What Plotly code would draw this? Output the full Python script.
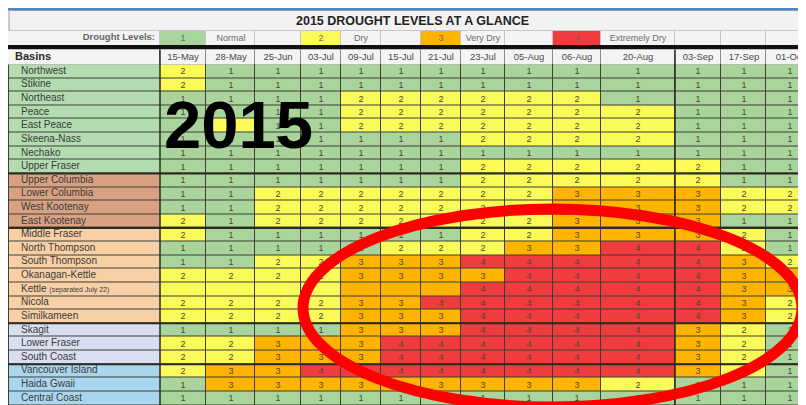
import plotly.graph_objects as go

# ---------------- data ----------------
title_text = "2015 DROUGHT LEVELS AT A GLANCE"
year_label = "2015"
legend_title = "Drought Levels:"
legend_levels = [1, 2, 3, 4]
legend_names = ["Normal", "Dry", "Very Dry", "Extremely Dry"]
header_label = "Basins"

dates = ["15-May", "28-May", "25-Jun", "03-Jul", "09-Jul", "15-Jul", "21-Jul",
         "23-Jul", "05-Aug", "06-Aug", "20-Aug", "03-Sep", "17-Sep", "01-Oct"]

basins = ["Northwest", "Stikine", "Northeast", "Peace", "East Peace", "Skeena-Nass",
          "Nechako", "Upper Fraser", "Upper Columbia", "Lower Columbia", "West Kootenay",
          "East Kootenay", "Middle Fraser", "North Thompson", "South Thompson",
          "Okanagan-Kettle", "Kettle", "Nicola", "Similkameen", "Skagit", "Lower Fraser",
          "South Coast", "Vancouver Island", "Haida Gwaii", "Central Coast"]
kettle_note = "(separated July 22)"
kettle_split_index = 7  # Kettle reported separately from 23-Jul

northwest       = [2, 1, 1, 1, 1, 1, 1, 1, 1, 1, 1, 1, 1, 1]
stikine         = [2, 1, 1, 1, 1, 1, 1, 1, 1, 1, 1, 1, 1, 1]
northeast       = [1, 1, 1, 1, 2, 2, 2, 2, 2, 2, 1, 1, 1, 1]
peace           = [1, 1, 1, 1, 2, 2, 2, 2, 2, 2, 2, 1, 1, 1]
east_peace      = [1, 2, 1, 1, 2, 2, 2, 2, 2, 2, 2, 1, 1, 1]
skeena_nass     = [1, 1, 1, 1, 1, 1, 1, 2, 2, 2, 2, 1, 1, 1]
nechako         = [1, 1, 1, 1, 1, 1, 1, 1, 1, 1, 1, 1, 1, 1]
upper_fraser    = [1, 1, 1, 1, 1, 1, 1, 2, 2, 2, 2, 2, 1, 1]
upper_columbia  = [1, 1, 1, 1, 1, 1, 1, 2, 2, 2, 2, 2, 1, 1]
lower_columbia  = [1, 1, 2, 2, 2, 2, 2, 2, 2, 3, 3, 3, 2, 2]
west_kootenay   = [1, 1, 2, 2, 2, 2, 2, 2, 2, 3, 3, 3, 2, 2]
east_kootenay   = [2, 1, 2, 2, 2, 2, 2, 2, 2, 3, 3, 3, 1, 1]
middle_fraser   = [2, 1, 1, 1, 1, 1, 1, 2, 2, 3, 3, 3, 2, 1]
north_thompson  = [1, 1, 1, 1, 1, 2, 2, 2, 3, 3, 4, 4, 2, 1]
south_thompson  = [1, 1, 2, 2, 3, 3, 3, 4, 4, 4, 4, 4, 3, 2]
okanagan_kettle = [2, 2, 2, 2, 3, 3, 3, 3, 4, 4, 4, 4, 3, 3]
kettle          = [2, 2, 2, 2, 3, 3, 3, 4, 4, 4, 4, 4, 3, 3]
nicola          = [2, 2, 2, 2, 3, 3, 4, 4, 4, 4, 4, 4, 3, 2]
similkameen     = [2, 2, 2, 2, 3, 3, 3, 4, 4, 4, 4, 4, 3, 2]
skagit          = [1, 1, 1, 1, 3, 3, 3, 4, 4, 4, 4, 3, 2, 1]
lower_fraser    = [2, 2, 3, 3, 3, 4, 4, 4, 4, 4, 4, 3, 2, 1]
south_coast     = [2, 2, 3, 3, 3, 4, 4, 4, 4, 4, 4, 3, 2, 1]
vancouver_island = [2, 3, 3, 4, 4, 4, 4, 4, 4, 4, 4, 3, 2, 1]
haida_gwaii     = [1, 3, 3, 3, 3, 3, 3, 3, 3, 3, 2, 1, 1, 1]
central_coast   = [1, 1, 1, 1, 1, 1, 1, 1, 1, 1, 1, 1, 1, 1]

levels = [northwest, stikine, northeast, peace, east_peace, skeena_nass, nechako,
          upper_fraser, upper_columbia, lower_columbia, west_kootenay, east_kootenay,
          middle_fraser, north_thompson, south_thompson, okanagan_kettle, kettle,
          nicola, similkameen, skagit, lower_fraser, south_coast, vancouver_island,
          haida_gwaii, central_coast]

# region group of each basin (0 north, 1 kootenay/columbia, 2 interior, 3 lower mainland, 4 coast)
groups = [0] * 8 + [1] * 4 + [2] * 7 + [3] * 3 + [4] * 3

# ---------------- styling / layout ----------------
W, H = 806, 405
level_colors = ["#f4f4f4", "#a9d49b", "#fafa58", "#ffb400", "#f03c3e"]
group_colors = ["#b3dcb0", "#d8a282", "#f9d0a6", "#d9dff0", "#aad7f0"]


def discrete_scale(cols):
    n = len(cols)
    sc = []
    for i, c in enumerate(cols):
        sc.append([i / n, c])
        sc.append([(i + 1) / n, c])
    return sc


col_edges = [152, 198, 247, 293, 333, 373, 413, 453, 497, 545, 593, 667, 713, 758, 806]
row_top, row_h = 56.5, 13.62
row_edges = [row_top + row_h * i for i in range(len(basins) + 1)]
row_centers = [(row_edges[i] + row_edges[i + 1]) / 2 for i in range(len(basins))]

cell_text = []
for name, vals in zip(basins, levels):
    if name == "Kettle":
        cell_text.append(["" if j < kettle_split_index else str(v) for j, v in enumerate(vals)])
    else:
        cell_text.append([str(v) for v in vals])

fig = go.Figure()

# main grid
fig.add_trace(go.Heatmap(
    z=levels, x=col_edges, y=row_edges, text=cell_text, texttemplate="%{text}",
    textfont=dict(size=9, color="#4d4633", family="Liberation Sans"),
    colorscale=discrete_scale(level_colors), zmin=-0.5, zmax=4.5,
    xgap=1, ygap=1, showscale=False, hoverinfo="skip"))

# label column background
fig.add_trace(go.Heatmap(
    z=[[g] for g in groups], x=[1, 152], y=row_edges,
    colorscale=discrete_scale(group_colors), zmin=-0.5, zmax=4.5,
    ygap=1, showscale=False, hoverinfo="skip"))

# header row with dates
hdr_edges = [0] + col_edges
fig.add_trace(go.Heatmap(
    z=[[0] * (len(dates) + 1)], x=hdr_edges, y=[41.5, 56],
    text=[[""] + dates], texttemplate="%{text}",
    textfont=dict(size=9.5, color="#4a4a4a", family="Liberation Sans"),
    colorscale=discrete_scale(level_colors), zmin=-0.5, zmax=4.5,
    xgap=1, showscale=False, hoverinfo="skip"))

# legend row
leg_z, leg_t = [0], [""]
for lv, nm in zip(legend_levels, legend_names):
    leg_z += [lv, 0, 0]
    leg_t += [str(lv), nm, ""]
while len(leg_z) < len(hdr_edges) - 1:
    leg_z.append(0)
    leg_t.append("")
fig.add_trace(go.Heatmap(
    z=[leg_z], x=hdr_edges, y=[23, 37], text=[leg_t], texttemplate="%{text}",
    textfont=dict(size=9, color="#6a6a6a", family="Liberation Sans"),
    colorscale=discrete_scale(level_colors), zmin=-0.5, zmax=4.5,
    xgap=1, showscale=False, hoverinfo="skip"))

# basin labels
label_text = [f"{b} <span style='font-size:7px'>{kettle_note}</span>" if b == "Kettle" else b
              for b in basins]
fig.add_trace(go.Scatter(
    x=[13] * len(basins), y=row_centers, mode="text", text=label_text,
    textposition="middle right",
    textfont=dict(size=10, color="#3a3a3a", family="Liberation Sans"),
    hoverinfo="skip", showlegend=False))

fig.add_trace(go.Scatter(
    x=[7, 147], y=[49, 30], mode="text",
    text=[f"<b>{header_label}</b>", f"<b>{legend_title}</b>"],
    textposition=["middle right", "middle left"],
    textfont=dict(size=[11, 9.5], color=["#2a2a2a", "#666666"], family="Liberation Sans"),
    hoverinfo="skip", showlegend=False))

shapes = [
    # top blue strip and title band
    dict(type="rect", x0=0, x1=W, y0=0, y1=2.5, fillcolor="#4b86c6", line_width=0, layer="below"),
    dict(type="rect", x0=1, x1=W, y0=2.5, y1=23, fillcolor="#f2f2f2",
         line=dict(color="#9a9a9a", width=1), layer="below"),
    # legend row background (line colour)
    dict(type="rect", x0=0, x1=W, y0=23, y1=37, fillcolor="#c4c4c4", line_width=0, layer="below"),
    # thick black rule
    dict(type="rect", x0=0, x1=W, y0=37, y1=41.5, fillcolor="#111111", line_width=0, layer="below"),
    # header line colour
    dict(type="rect", x0=0, x1=W, y0=41.5, y1=56.5, fillcolor="#8a8a8a", line_width=0, layer="below"),
    # grid line colour for table
    dict(type="rect", x0=0, x1=W, y0=56, y1=row_edges[-1] + 0.5, fillcolor="#3f3f35",
         line_width=0, layer="below"),
    # bottom box
    dict(type="rect", x0=68, x1=735, y0=row_edges[-1] + 1.5, y1=H + 5, fillcolor="#ffffff",
         line=dict(color="#555555", width=1), layer="below"),
]
for gi in (8, 12, 19, 22):
    shapes.append(dict(type="line", x0=0, x1=W, y0=row_edges[gi], y1=row_edges[gi],
                       line=dict(color="#2b2b22", width=2)))
for xv in (152, 667):
    shapes.append(dict(type="line", x0=xv, x1=xv, y0=41.5, y1=row_edges[-1],
                       line=dict(color="#2b2b22", width=1.5)))
# highlight ellipse
shapes.append(dict(type="circle", x0=295, x1=794, y0=201, y1=399,
                   line=dict(color="#ff0000", width=11), fillcolor="rgba(0,0,0,0)"))

annotations = [
    dict(x=404, y=13, text=f"<b>{title_text}</b>", showarrow=False,
         font=dict(size=12.5, color="#222222", family="Liberation Sans")),
    dict(x=230, y=116, text=f"<b>{year_label}</b>", showarrow=False,
         font=dict(size=67, color="#000000", family="Liberation Sans")),
]

fig.update_layout(
    width=W, height=H, margin=dict(l=0, r=0, t=0, b=0),
    paper_bgcolor="#ffffff", plot_bgcolor="#ffffff",
    xaxis=dict(range=[0, W], visible=False, fixedrange=True),
    yaxis=dict(range=[H, 0], visible=False, fixedrange=True),
    shapes=shapes, annotations=annotations, showlegend=False,
)

fig.write_html("out.html")
